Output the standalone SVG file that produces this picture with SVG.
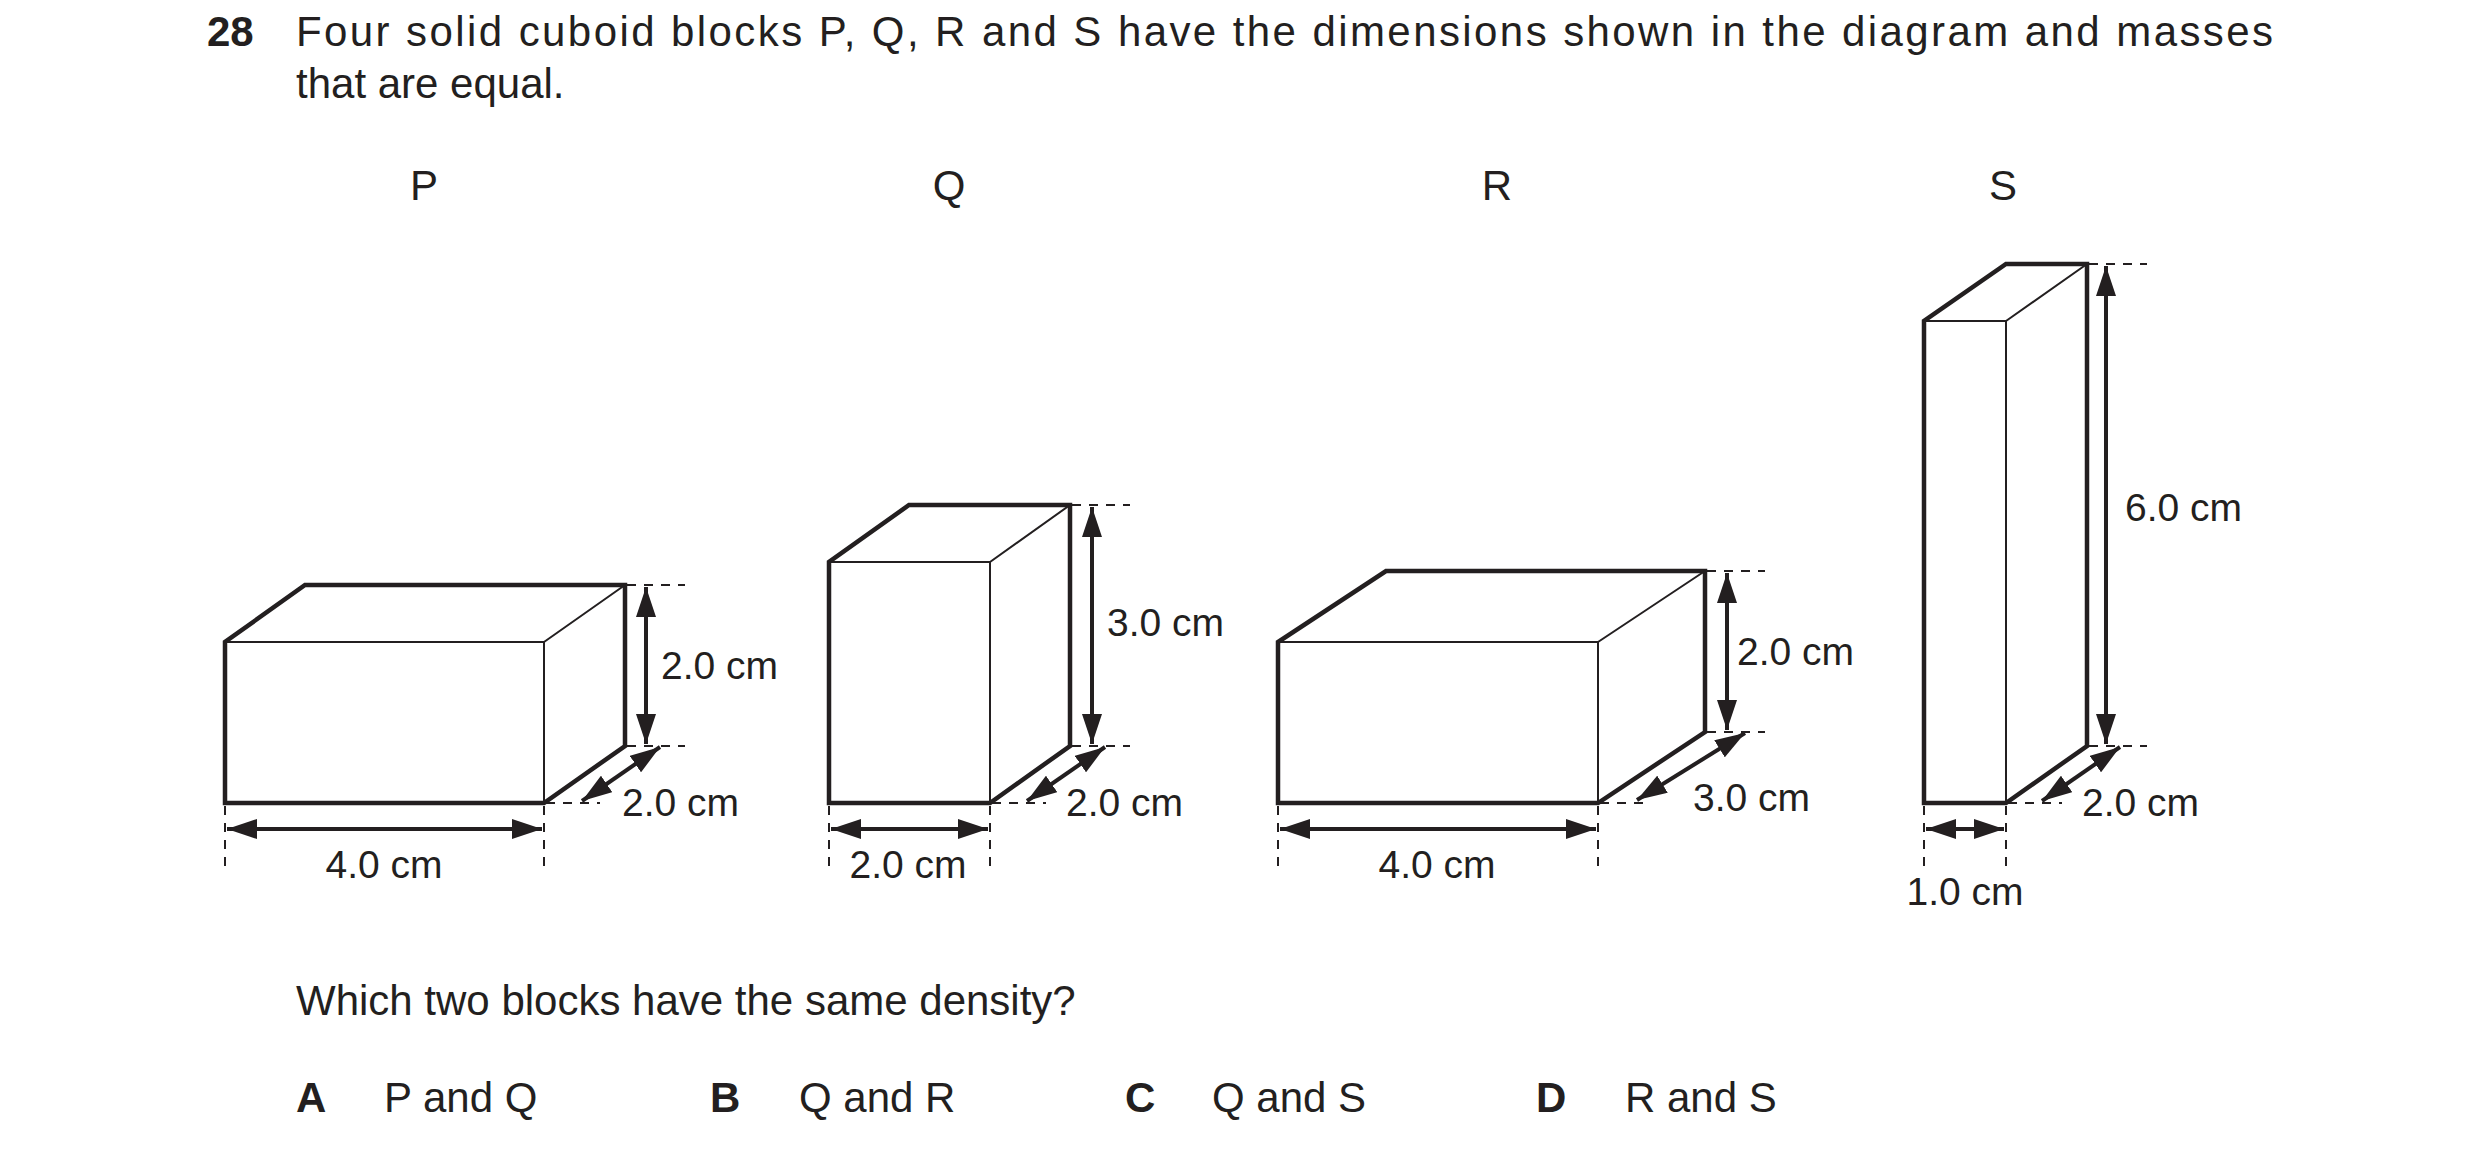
<svg xmlns="http://www.w3.org/2000/svg" width="2480" height="1156" viewBox="0 0 2480 1156">
<style>
text{font-family:"Liberation Sans",Arial,sans-serif;fill:#231f20}
.q{font-size:42px}
.b{font-weight:bold}
.d{font-size:39px}
.thick{fill:none;stroke:#231f20;stroke-width:4.5;stroke-linejoin:miter}
.thin{fill:none;stroke:#231f20;stroke-width:2}
.dash{fill:none;stroke:#231f20;stroke-width:2;stroke-dasharray:9,8}
.arr{fill:none;stroke:#231f20;stroke-width:4;marker-start:url(#ah);marker-end:url(#ah)}
</style>
<defs>
<marker id="ah" markerUnits="userSpaceOnUse" markerWidth="34" markerHeight="20" refX="30" refY="10" orient="auto-start-reverse">
<path d="M0,0 L30,10 L0,20 Z" fill="#231f20"/>
</marker>
</defs>
<rect width="2480" height="1156" fill="#fff"/>
<g id="question">
<text class="q b" x="207" y="46">28</text>
<text class="q" x="296" y="46" textLength="1977" lengthAdjust="spacing">Four solid cuboid blocks P, Q, R and S have the dimensions shown in the diagram and masses</text>
<text class="q" x="296" y="98">that are equal.</text>
<text class="q" x="424" y="200" text-anchor="middle">P</text>
<text class="q" x="949" y="200" text-anchor="middle">Q</text>
<text class="q" x="1497" y="200" text-anchor="middle">R</text>
<text class="q" x="2003" y="200" text-anchor="middle">S</text>
<text class="q" x="296" y="1015">Which two blocks have the same density?</text>
<text class="q b" x="296" y="1112">A</text><text class="q" x="384" y="1112">P and Q</text>
<text class="q b" x="710" y="1112">B</text><text class="q" x="799" y="1112">Q and R</text>
<text class="q b" x="1125" y="1112">C</text><text class="q" x="1212" y="1112">Q and S</text>
<text class="q b" x="1536" y="1112">D</text><text class="q" x="1625" y="1112">R and S</text>
</g>
<g id="P">
<path class="thick" d="M225,803 V642 L305,585 H625 V746 L544,803 Z"/>
<path class="thin" d="M225,642 H544 V803 M544,642 L625,585"/>
</g>
<g id="Q">
<path class="thick" d="M829,803 V562 L909,505 H1070 V746 L990,803 Z"/>
<path class="thin" d="M829,562 H990 V803 M990,562 L1070,505"/>
</g>
<g id="R">
<path class="thick" d="M1278,803 V642 L1386,571 H1705 V732 L1598,803 Z"/>
<path class="thin" d="M1278,642 H1598 V803 M1598,642 L1705,571"/>
</g>
<g id="S">
<path class="thick" d="M1924,803 V321 L2006,264 H2087 V746 L2006,803 Z"/>
<path class="thin" d="M1924,321 H2006 V803 M2006,321 L2087,264"/>
</g>
<g id="connectors">
<!-- P -->
<path class="dash" d="M627,585 H685 M627,746 H685 M546,803 H600 M225,806 V866 M544,806 V866"/>
<path class="arr" d="M646,587 V744"/>
<path class="arr" d="M582,801 L660,747"/>
<path class="arr" d="M227,829 H542"/>
<!-- Q -->
<path class="dash" d="M1072,505 H1130 M1072,746 H1130 M992,803 H1046 M829,806 V866 M990,806 V866"/>
<path class="arr" d="M1092,507 V744"/>
<path class="arr" d="M1027,801 L1105,747"/>
<path class="arr" d="M831,829 H988"/>
<!-- R -->
<path class="dash" d="M1707,571 H1765 M1707,732 H1765 M1600,803 H1650 M1278,806 V866 M1598,806 V866"/>
<path class="arr" d="M1727,573 V730"/>
<path class="arr" d="M1637,800 L1745,733"/>
<path class="arr" d="M1280,829 H1596"/>
<!-- S -->
<path class="dash" d="M2089,264 H2147 M2089,746 H2147 M2008,803 H2062 M1924,806 V872 M2006,806 V872"/>
<path class="arr" d="M2106,266 V744"/>
<path class="arr" d="M2042,801 L2120,747"/>
<path class="arr" d="M1926,829 H2004"/>
</g>
<g id="labels">
<text class="d" x="661" y="679">2.0 cm</text>
<text class="d" x="622" y="816">2.0 cm</text>
<text class="d" x="384" y="878" text-anchor="middle">4.0 cm</text>
<text class="d" x="1107" y="636">3.0 cm</text>
<text class="d" x="1066" y="816">2.0 cm</text>
<text class="d" x="908" y="878" text-anchor="middle">2.0 cm</text>
<text class="d" x="1737" y="665">2.0 cm</text>
<text class="d" x="1693" y="811">3.0 cm</text>
<text class="d" x="1437" y="878" text-anchor="middle">4.0 cm</text>
<text class="d" x="2125" y="521">6.0 cm</text>
<text class="d" x="2082" y="816">2.0 cm</text>
<text class="d" x="1965" y="905" text-anchor="middle">1.0 cm</text>
</g>
</svg>
